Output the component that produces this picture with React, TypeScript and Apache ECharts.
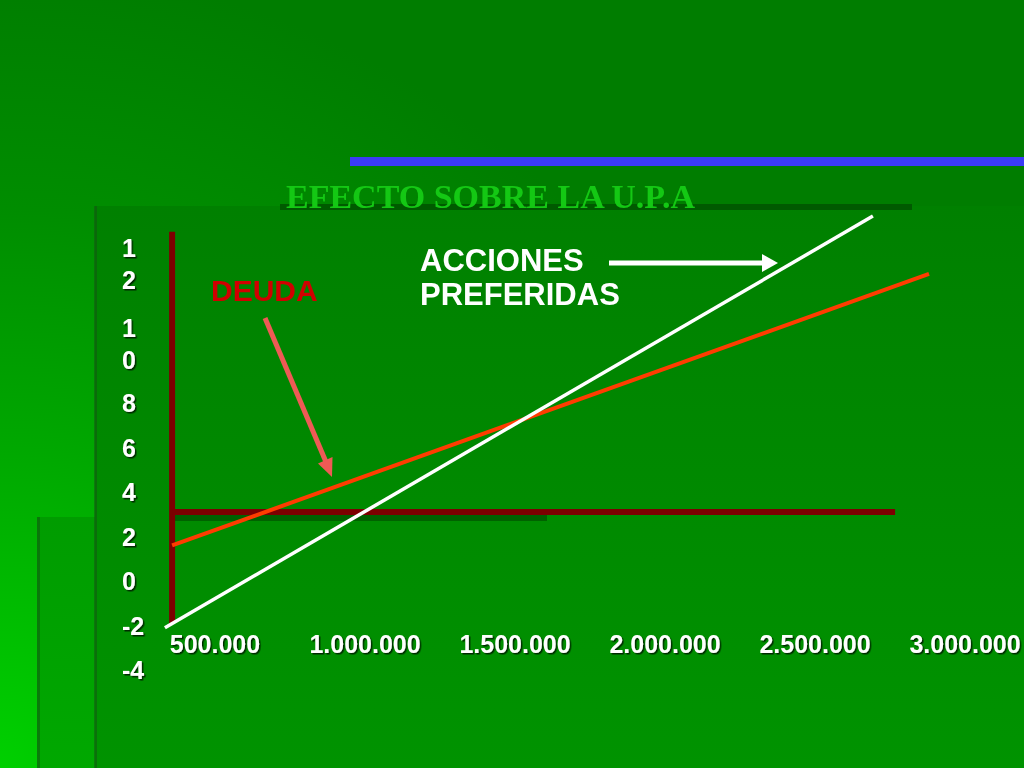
import { useEffect, useRef } from 'react';
import * as echarts from 'echarts';

// valores del gráfico (UAII en pesos, UPA)
const xTicks = [500000, 1000000, 1500000, 2000000, 2500000, 3000000];
const xTickLabels = ['500.000', '1.000.000', '1.500.000', '2.000.000', '2.500.000', '3.000.000'];
const yTicks = [-4, -2, 0, 2, 4, 6, 8, 10, 12];
const yTickLabels = ['-4', '-2', '0', '2', '4', '6', '8', '10', '12'];

const accionesPreferidas = [
  [333000, -2.1],
  [2693000, 16.4],
];
const deuda = [
  [357000, 1.6],
  [2880000, 13.8],
];
const ejeVertical = [
  [357000, -1.9],
  [357000, 15.7],
];
const ejeHorizontal = [
  [357000, 3.1],
  [2767000, 3.1],
];

const SANS = '"Liberation Sans", Arial, sans-serif';
const SERIF = '"Liberation Serif", "Times New Roman", serif';

const shadow = {
  textShadowColor: 'rgba(0,0,0,0.7)',
  textShadowOffsetX: 1.5,
  textShadowOffsetY: 1.5,
  textShadowBlur: 1,
};
const labelText = { color: '#fff', fontWeight: 'bold' as const, fontFamily: SANS, ...shadow };

export default function App() {
  const ref = useRef<HTMLDivElement>(null);

  useEffect(() => {
    if (!ref.current) return;
    const chart = echarts.init(ref.current, null, { renderer: 'svg' });

    const yLabel = (v: number) => {
      const i = yTicks.findIndex((t) => Math.abs(t - v) < 1e-6);
      if (i < 0) return '';
      const s = yTickLabels[i];
      // el cuadro de texto es estrecho: 10 y 12 se parten en dos líneas
      if (s === '12') return `{a|1}\n{w12|2}`;
      if (s === '10') return `{a|1}\n{w10|0}`;
      return s;
    };

    chart.setOption({
      animation: false,
      graphic: {
        elements: [
          {
            type: 'rect',
            z: -20,
            shape: { x: 0, y: 0, width: 1024, height: 768 },
            style: {
              fill: new echarts.graphic.RadialGradient(
                0,
                768,
                800,
                [
                  { offset: 0, color: '#00d000' },
                  { offset: 0.4, color: '#00a800' },
                  { offset: 0.7, color: '#008d00' },
                  { offset: 1, color: '#007d00' },
                ],
                true
              ),
            },
            silent: true,
          },
          {
            type: 'rect',
            z: -19,
            shape: { x: 37, y: 517, width: 987, height: 251 },
            style: {
              fill: new echarts.graphic.LinearGradient(0, 0, 0, 1, [
                { offset: 0, color: '#009c00' },
                { offset: 1, color: '#00a800' },
              ]),
            },
            silent: true,
          },
          {
            type: 'rect',
            z: -18,
            shape: { x: 37, y: 517, width: 3, height: 251 },
            style: { fill: 'rgba(20,80,20,0.5)' },
            silent: true,
          },
          {
            type: 'rect',
            z: -17,
            shape: { x: 95, y: 206, width: 929, height: 562 },
            style: {
              fill: new echarts.graphic.LinearGradient(0, 0, 0, 1, [
                { offset: 0, color: '#008000' },
                { offset: 1, color: '#009300' },
              ]),
            },
            silent: true,
          },
          {
            type: 'rect',
            z: -16,
            shape: { x: 94, y: 206, width: 3, height: 562 },
            style: { fill: 'rgba(20,80,20,0.5)' },
            silent: true,
          },
          {
            type: 'rect',
            z: -15,
            shape: { x: 280, y: 204, width: 632, height: 6 },
            style: { fill: '#005a00' },
            silent: true,
          },
          {
            type: 'rect',
            z: -15,
            shape: { x: 172, y: 515, width: 375, height: 6 },
            style: { fill: '#006200' },
            silent: true,
          },
          {
            type: 'rect',
            z: -15,
            shape: { x: 350, y: 157, width: 674, height: 9 },
            style: { fill: '#3b3bf5' },
            silent: true,
          },
          {
            type: 'text',
            z: 5,
            x: 286,
            y: 196,
            style: {
              text: 'EFECTO SOBRE LA U.P.A',
              fill: '#14c814',
              fontSize: 34,
              fontWeight: 'bold',
              fontFamily: SERIF,
              align: 'left',
              verticalAlign: 'middle',
            },
          },
          {
            type: 'text',
            z: 5,
            x: 211,
            y: 290,
            style: {
              text: 'DEUDA',
              fill: '#d10000',
              fontSize: 30,
              fontWeight: 'bold',
              fontFamily: SANS,
              align: 'left',
              verticalAlign: 'middle',
            },
          },
          {
            type: 'text',
            z: 5,
            x: 420,
            y: 277.5,
            style: {
              text: 'ACCIONES\nPREFERIDAS',
              fill: '#ffffff',
              fontSize: 31,
              lineHeight: 34,
              fontWeight: 'bold',
              fontFamily: SANS,
              align: 'left',
              verticalAlign: 'middle',
            },
          },
          // flecha de DEUDA
          {
            type: 'line',
            z: 5,
            shape: { x1: 265, y1: 318, x2: 326, y2: 462 },
            style: { stroke: '#ef5a55', lineWidth: 5 },
          },
          {
            type: 'polygon',
            z: 5,
            shape: {
              points: [
                [332, 477],
                [332.5, 457],
                [318, 463.5],
              ],
            },
            style: { fill: '#ef5a55' },
          },
          // flecha de ACCIONES PREFERIDAS
          {
            type: 'line',
            z: 5,
            shape: { x1: 609, y1: 263, x2: 764, y2: 263 },
            style: { stroke: '#ffffff', lineWidth: 5 },
          },
          {
            type: 'polygon',
            z: 5,
            shape: {
              points: [
                [762, 254],
                [778, 263],
                [762, 272],
              ],
            },
            style: { fill: '#ffffff' },
          },
        ],
      },
      grid: { left: 65, right: 59, top: 180.5, bottom: 98 },
      xAxis: {
        type: 'value',
        min: 0,
        max: 3000000,
        interval: 500000,
        axisLine: { show: false },
        axisTick: { show: false },
        splitLine: { show: false },
        axisLabel: {
          ...labelText,
          fontSize: 25,
          inside: true,
          margin: 26,
          verticalAlign: 'middle',
          formatter: (v: number) => {
            const i = xTicks.indexOf(v);
            return i < 0 ? '' : xTickLabels[i];
          },
        },
      },
      yAxis: {
        type: 'value',
        min: -4,
        max: 18,
        interval: 2,
        axisLine: { show: false },
        axisTick: { show: false },
        splitLine: { show: false },
        axisLabel: {
          ...labelText,
          fontSize: 25,
          inside: true,
          margin: 57,
          align: 'left',
          verticalAlign: 'middle',
          formatter: yLabel,
          rich: {
            a: { ...labelText, fontSize: 25, lineHeight: 33 },
            w12: { ...labelText, fontSize: 25, padding: [3, 0, 104, 0] },
            w10: { ...labelText, fontSize: 25, padding: [3, 0, 33, 0] },
          },
        },
      },
      series: [
        {
          name: 'Eje vertical',
          type: 'line',
          data: ejeVertical,
          symbol: 'none',
          silent: true,
          lineStyle: { color: '#7c0000', width: 6 },
        },
        {
          name: 'Eje horizontal',
          type: 'line',
          data: ejeHorizontal,
          symbol: 'none',
          silent: true,
          lineStyle: { color: '#7c0000', width: 6 },
        },
        {
          name: 'DEUDA',
          type: 'line',
          data: deuda,
          symbol: 'none',
          silent: true,
          lineStyle: { color: '#ff3c00', width: 4 },
        },
        {
          name: 'ACCIONES PREFERIDAS',
          type: 'line',
          data: accionesPreferidas,
          symbol: 'none',
          silent: true,
          lineStyle: { color: '#ffffff', width: 3.5 },
        },
      ],
    });

    return () => {
      chart.dispose();
    };
  }, []);

  return (
    <div
      ref={ref}
      style={{ position: 'fixed', left: 0, top: 0, width: 1024, height: 768 }}
    />
  );
}
